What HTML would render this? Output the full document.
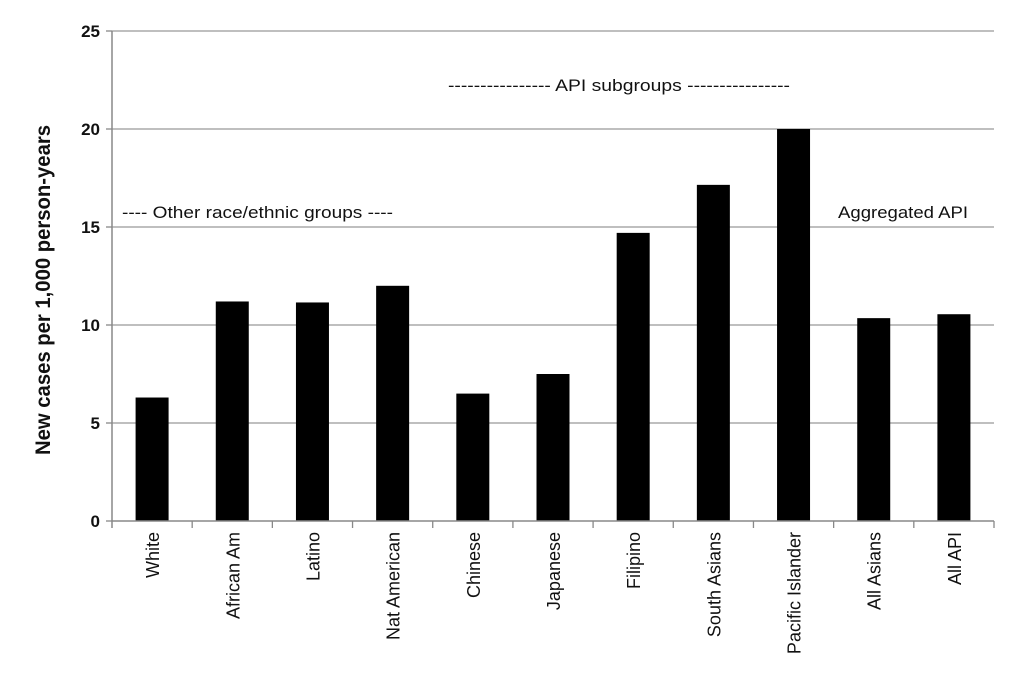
<!DOCTYPE html>
<html><head><meta charset="utf-8"><style>
body{margin:0;background:#fff;}
svg{display:block;font-family:"Liberation Sans",sans-serif;}
</style></head><body>
<svg id="chart" width="1030" height="685" xmlns="http://www.w3.org/2000/svg">
<rect width="1030" height="685" fill="#fff"/>
<g id="grid"></g><g id="bars"></g><g id="axes"></g>
<text transform="translate(50,290) rotate(-90)" text-anchor="middle" font-size="21" font-weight="bold" fill="#111" textLength="330" lengthAdjust="spacingAndGlyphs">New cases per 1,000 person-years</text>
<text x="122" y="218" font-size="17" fill="#111" textLength="271" lengthAdjust="spacingAndGlyphs">---- Other race/ethnic groups ----</text>
<text x="448" y="91" font-size="17" fill="#111" textLength="342" lengthAdjust="spacingAndGlyphs">---------------- API subgroups ----------------</text>
<text x="838" y="218" font-size="17" fill="#111" textLength="130" lengthAdjust="spacingAndGlyphs">Aggregated API</text>
</svg>
<script>
const categories=["White","African Am","Latino","Nat American","Chinese","Japanese","Filipino","South Asians","Pacific Islander","All Asians","All API"];
const values=[6.3,11.2,11.15,12.0,6.5,7.5,14.7,17.15,20.0,10.35,10.55];
const yTicks=[0,5,10,15,20,25];
const NS="http://www.w3.org/2000/svg";
const L=112,R=994,T=31,B=521,yMax=25;
const y=v=>B-(v/yMax)*(B-T);
const step=(R-L)/categories.length;
const x=i=>L+step*(i+0.5);
function mk(tag,attrs,parent){const e=document.createElementNS(NS,tag);for(const k in attrs)e.setAttribute(k,attrs[k]);parent.appendChild(e);return e;}
const grid=document.getElementById('grid'),bars=document.getElementById('bars'),axes=document.getElementById('axes');
yTicks.forEach(t=>{
  if(t>0){const g=mk('line',{x1:L,x2:R,y1:y(t),y2:y(t),stroke:'#999','stroke-width':1.3},grid);
  
  }
  const tk=mk('line',{x1:L-6,x2:L,y1:y(t),y2:y(t),stroke:'#888','stroke-width':1.3},axes);
  
  
  const lb=mk('text',{x:L-12,y:y(t)+6,'text-anchor':'end','font-size':17,'font-weight':'bold',fill:'#111'},axes);
  lb.textContent=t;
  
  
});
const bw=33;
categories.forEach((c,i)=>{
  const r=mk('rect',{x:x(i)-bw/2,y:y(values[i]),width:bw,height:B-y(values[i]),fill:'#000'},bars);
  
  
  const tk=mk('line',{x1:L+step*(i+1),x2:L+step*(i+1),y1:B,y2:B+7,stroke:'#888','stroke-width':1.3},axes);
  
  
  const lb=mk('text',{transform:`translate(${x(i)+7},532) rotate(-90)`,'text-anchor':'end','font-size':18,fill:'#111'},axes);
  lb.textContent=c;
  
  
});
const xa=mk('line',{x1:L,x2:R,y1:B,y2:B,stroke:'#888','stroke-width':1.5},axes);


const ya=mk('line',{x1:L,x2:L,y1:T,y2:B+7,stroke:'#888','stroke-width':1.5},axes);


</script>
</body></html>
